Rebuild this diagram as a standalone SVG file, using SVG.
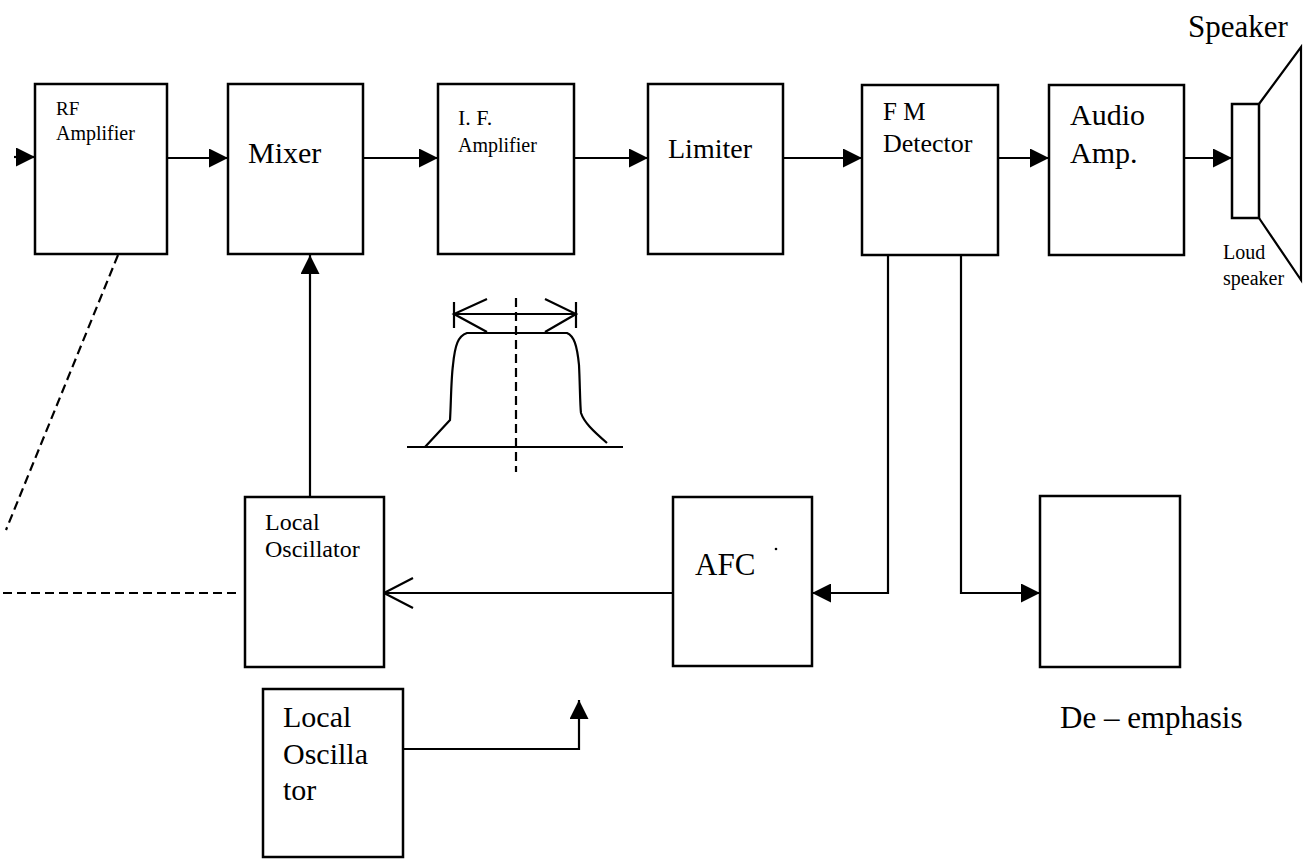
<svg xmlns="http://www.w3.org/2000/svg" width="1304" height="859" viewBox="0 0 1304 859">
<style>
.box{fill:#fff;stroke:#000;stroke-width:2.5}
.ln{fill:none;stroke:#000;stroke-width:2.2}
.dash{fill:none;stroke:#000;stroke-width:2.2;stroke-dasharray:9 5}
text{font-family:"Liberation Serif","Times New Roman",serif;fill:#000}
</style>
<defs>
<marker id="ah" viewBox="0 0 20 20" refX="20" refY="10" markerWidth="21" markerHeight="19" markerUnits="userSpaceOnUse" orient="auto">
<path d="M0,0 L20,10 L0,20 Z" fill="#000"/>
</marker>
</defs>
<rect width="1304" height="859" fill="#fff"/>

<g id="connectors">
<path d="M14,157 L35,157" class="ln" marker-end="url(#ah)"/>
<path d="M167,158 L228,158" class="ln" marker-end="url(#ah)"/>
<path d="M362,158 L438,158" class="ln" marker-end="url(#ah)"/>
<path d="M574,158 L648,158" class="ln" marker-end="url(#ah)"/>
<path d="M783,158 L862,158" class="ln" marker-end="url(#ah)"/>
<path d="M998,158 L1049,158" class="ln" marker-end="url(#ah)"/>
<path d="M1184,158 L1232,158" class="ln" marker-end="url(#ah)"/>
<path d="M310,497 L310,255" class="ln" marker-end="url(#ah)"/>
<path d="M888,255 L888,593 L812,593" class="ln" marker-end="url(#ah)"/>
<path d="M961,255 L961,593 L1040,593" class="ln" marker-end="url(#ah)"/>
<path d="M673,593 L384,593" class="ln"/>
<path d="M413,578 L384,593 L413,608" class="ln"/>
<path d="M403,749 L579,749 L579,700" class="ln" marker-end="url(#ah)"/>
<path d="M118,255 L6,530" class="dash"/>
<path d="M3,593 L238,593" class="dash"/>
</g>

<g id="rf-amplifier">
<rect x="35" y="84" width="132" height="170" class="box"/>
<text x="56" y="115" font-size="19">RF</text>
<text x="56" y="140" font-size="20">Amplifier</text>
</g>

<g id="mixer">
<rect x="228" y="84" width="135" height="170" class="box"/>
<text x="248" y="163" font-size="30">Mixer</text>
</g>

<g id="if-amplifier">
<rect x="438" y="84" width="136" height="170" class="box"/>
<text x="458" y="125" font-size="22">I. F.</text>
<text x="458" y="152" font-size="20">Amplifier</text>
</g>

<g id="limiter">
<rect x="648" y="84" width="135" height="170" class="box"/>
<text x="668" y="158" font-size="28">Limiter</text>
</g>

<g id="fm-detector">
<rect x="862" y="85" width="136" height="170" class="box"/>
<text x="883" y="120" font-size="25">F M</text>
<text x="883" y="152" font-size="26">Detector</text>
</g>

<g id="audio-amp">
<rect x="1049" y="85" width="135" height="170" class="box"/>
<text x="1070" y="125" font-size="30">Audio</text>
<text x="1070" y="163" font-size="30">Amp.</text>
</g>

<g id="speaker">
<rect x="1232" y="104" width="27" height="114" class="box"/>
<path d="M1259,104 L1301,47 L1301,280 L1259,218" class="ln" stroke-width="2.5"/>
<text x="1188" y="37" font-size="31">Speaker</text>
<text x="1223" y="259" font-size="20">Loud</text>
<text x="1223" y="285" font-size="20">speaker</text>
</g>

<g id="if-response">
<path d="M407,447 L623,447" class="ln"/>
<path d="M516,298 L516,472" class="dash" stroke-dasharray="8 5"/>
<path d="M425,447 L450,420 C451,405 451,380 453,365 C455,345 458,336 467,333 L567,333 C574,336 577,345 579,365 C580,385 580,405 581,413 C584,422 592,430 607,443" class="ln"/>
<path d="M454,302 L454,328 M576,302 L576,328 M454,314 L576,314" class="ln"/>
<path d="M487,299 L454,314 L487,332 M545,299 L576,314 L545,332" class="ln"/>
</g>

<g id="local-oscillator">
<rect x="245" y="497" width="139" height="170" class="box"/>
<text x="265" y="530" font-size="24">Local</text>
<text x="265" y="557" font-size="24">Oscillator</text>
</g>

<g id="afc">
<rect x="673" y="497" width="139" height="169" class="box"/>
<text x="695" y="575" font-size="31">AFC</text>
<circle cx="776" cy="549" r="1.3" fill="#000"/>
</g>

<g id="de-emphasis">
<rect x="1040" y="496" width="140" height="171" class="box"/>
<text x="1060" y="728" font-size="31">De – emphasis</text>
</g>

<g id="local-oscillator-2">
<rect x="263" y="689" width="140" height="168" class="box"/>
<text x="283" y="727" font-size="30">Local</text>
<text x="283" y="764" font-size="30">Oscilla</text>
<text x="283" y="800" font-size="30">tor</text>
</g>
</svg>
